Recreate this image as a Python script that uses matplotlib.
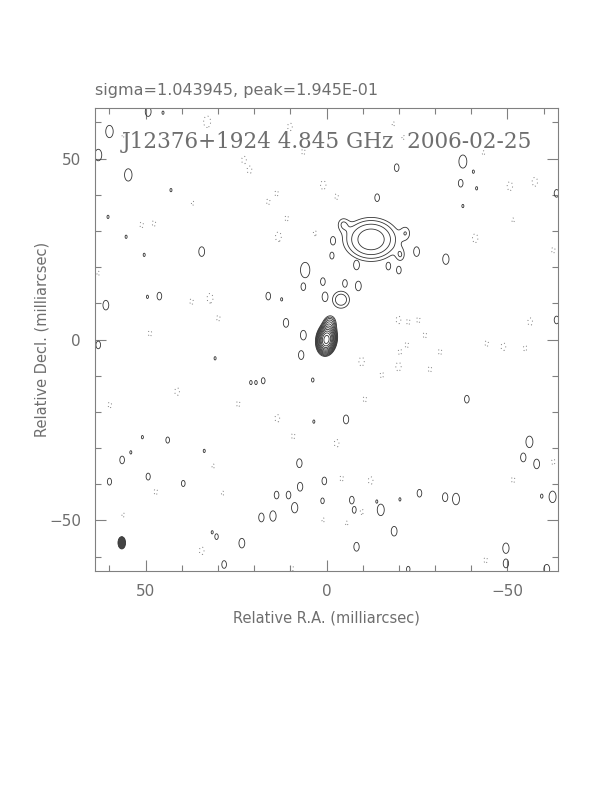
import numpy as np
import matplotlib
matplotlib.use("Agg")
import matplotlib.pyplot as plt
from matplotlib.patches import Ellipse
from matplotlib.ticker import MultipleLocator

# map header values
source = "J12376+1924"
freq = "4.845 GHz"
obs_date = "2006-02-25"
sigma = 1.043945
peak = 1.945E-01

# clean beam (mas, deg) and where it is drawn
beam_maj, beam_min, beam_pa = 3.4, 2.1, 0.0
beam_ra, beam_dec = 56.6, -56.2

# contour levels in units of sigma: -3, 3 * sqrt(2)^n
base_level = 3.0
n_levels = 12

# core and jet components: ra, dec (mas), peak (sigma), fwhm maj/min (mas), pa (deg)
comp_ra = [0.0, -0.8, -12.3, -12.5, -4.5, -20.5, -22.0, -4.0]
comp_dec = [0.0, 4.0, 27.7, 27.5, 32.0, 23.2, 29.5, 11.0]
comp_amp = [170.0, 12.0, 9.5, 2.0, 3.0, 3.0, 2.8, 5.5]
comp_maj = [3.9, 3.5, 10.3, 17.0, 3.5, 3.6, 3.8, 5.0]
comp_min = [2.5, 2.5, 8.3, 11.0, 3.0, 2.4, 2.6, 5.0]
comp_pa = [-8.0, -8.0, 90.0, 90.0, 0.0, 0.0, 0.0, 0.0]

# positive residual peaks, each a single 3-sigma contour: ra, dec (mas), relative size
pos_ra = [60.0, 63.1, 54.8, 34.5, 5.9, 6.4, 1.0, 0.4, 61.0, 46.2, 16.1, 12.4, 11.2, 6.4,
          49.3, 60.4, 55.4, 50.4, 49.5, 43.0, 45.2,
          -37.7, -19.4, -37.1, -14.0, -37.7, -41.5, -40.6, -63.6, -1.8, -1.5, -8.3,
          -17.1, -20.0, -24.9, -33.0, -8.8, -5.1, -63.6,
          -38.8, -5.4, -56.1, -54.4, -58.1, -62.5, -59.5, 0.6, 1.1, -7.0, -7.7, -15.0,
          -13.9, -20.3, -25.7, -32.8, -35.8, -18.7, -8.3, -49.6, -49.6, -60.9, -22.6,
          63.1, 7.0, 20.9, 19.5, 17.5, 3.8, 30.8, 3.5, 7.5, 7.3, 13.8, 10.5, 8.8, 14.8,
          18.0, 23.4, 28.3, 30.4, 31.6, 56.5, 60.0, 49.3, 39.6, 43.9, 54.1, 50.9, 33.8]
pos_dec = [57.5, 51.0, 45.5, 24.3, 19.2, 14.6, 16.0, 11.8, 9.5, 12.0, 12.0, 11.1, 4.6, 1.2,
           63.0, 33.9, 28.4, 23.4, 11.8, 41.3, 62.7,
           49.2, 47.5, 43.2, 39.2, 36.9, 41.8, 46.4, 40.4, 27.3, 23.2, 20.6,
           20.3, 19.2, 24.3, 22.2, 14.8, 15.5, 5.4,
           -16.5, -22.1, -28.3, -32.6, -34.4, -43.5, -43.3, -39.1, -44.6, -44.4, -47.1, -47.1,
           -44.8, -44.2, -42.5, -43.6, -44.1, -53.0, -57.3, -57.7, -61.9, -63.5, -63.5,
           -1.5, -4.3, -11.9, -11.9, -11.4, -11.2, -5.2, -22.7, -34.2, -40.7, -43.0, -43.0,
           -46.5, -48.8, -49.2, -56.3, -62.2, -54.5, -53.3, -33.3, -39.3, -37.9, -39.8,
           -27.8, -31.2, -27.0, -30.8]
pos_size = [1.6, 1.5, 1.6, 1.25, 2.0, 1.0, 1.0, 1.25, 1.25, 1.0, 1.0, 0.45, 1.15, 1.25,
            1.25, 0.45, 0.45, 0.45, 0.45, 0.45, 0.45,
            1.7, 1.0, 1.0, 1.0, 0.45, 0.45, 0.45, 1.0, 1.1, 0.9, 1.25,
            1.0, 1.0, 1.25, 1.35, 1.25, 1.0, 1.0,
            1.0, 1.15, 1.5, 1.15, 1.25, 1.5, 0.55, 1.0, 0.75, 1.0, 0.9, 1.5,
            0.45, 0.45, 1.0, 1.15, 1.5, 1.25, 1.15, 1.35, 1.15, 1.25, 0.75,
            1.0, 1.15, 0.55, 0.55, 0.8, 0.55, 0.45, 0.45, 1.15, 1.15, 1.0, 1.0, 1.35, 1.35,
            1.15, 1.25, 1.0, 0.75, 0.45, 1.0, 0.9, 0.9, 0.8, 0.8, 0.45, 0.45, 0.45]

# negative residual peaks (dotted contours): ra, dec (mas), relative size
neg_ra = [33.0, 10.1, 6.4, 22.8, 21.3, 0.9, 13.8, 16.1, 11.0, 13.3, 3.2, 51.1, 47.7, 37.0,
          32.2, 29.9, 37.3, 48.8, 63.1, 56.2, -2.8, -18.5, -50.7, -57.6, -41.1, -51.6,
          -43.4, -19.9, -22.6, -25.4, -27.2, -56.3, -62.7, -22.2, -20.3, -31.4, -44.3,
          -48.9, -54.9, -9.7, -19.9, -15.3, -28.6, -10.6, -2.8, -4.2, -12.2, -9.7, -5.6,
          0.9, -51.6, -62.7, -44.0, 41.3, 59.9, 24.4, 13.6, 9.2, 31.3, 47.2, 28.7, 56.2,
          34.5, 9.6, -21.2]
neg_dec = [60.2, 58.8, 51.9, 49.6, 46.9, 42.7, 40.4, 38.1, 33.5, 28.4, 29.4, 31.7, 32.1, 37.7,
           11.4, 5.9, 10.5, 1.7, 18.3, 56.5, 39.5, 59.6, 42.4, 43.6, 28.0, 33.0,
           51.6, 5.4, 4.9, 5.4, 1.2, 4.9, 24.7, -1.5, -3.4, -3.4, -1.1,
           -2.0, -2.4, -6.1, -7.5, -9.8, -8.2, -16.5, -28.7, -38.4, -39.0, -47.6, -50.8,
           -49.9, -38.8, -33.8, -61.0, -14.4, -18.1, -17.8, -21.8, -26.7, -35.0, -42.1, -42.5,
           -48.5, -58.4, -63.3, 55.9]
neg_size = [1.5, 1.0, 0.75, 1.0, 1.0, 1.15, 0.75, 0.75, 0.75, 1.25, 0.75, 0.75, 0.75, 0.55,
            1.25, 0.75, 0.75, 0.75, 0.55, 0.55, 0.75, 0.55, 1.15, 1.15, 1.15, 0.55,
            0.55, 1.0, 0.75, 0.75, 0.75, 1.0, 0.75, 0.75, 0.75, 0.75, 0.75,
            1.0, 0.75, 1.15, 1.15, 0.75, 0.75, 0.75, 1.0, 0.75, 1.0, 0.75, 0.55,
            0.55, 0.75, 0.75, 0.75, 1.0, 0.75, 0.75, 1.0, 0.75, 0.55, 0.75, 0.55, 0.55,
            1.0, 0.75, 0.55]

# residual peaks are beam shaped, peak just above the lowest level
noise_peak = 4.0
noise_maj, noise_min = 3.3, 2.0


def gauss2d(ra, dec, x0, y0, amp, maj, mn, pa):
    t = np.deg2rad(pa)
    dx = ra - x0
    dy = dec - y0
    u = dx * np.sin(t) + dy * np.cos(t)
    v = dx * np.cos(t) - dy * np.sin(t)
    return amp * np.exp(-4 * np.log(2) * ((u / maj) ** 2 + (v / mn) ** 2))


grid = np.linspace(-64, 64, 641)
RA, DEC = np.meshgrid(grid, grid)
img = np.zeros_like(RA)
for i in range(len(comp_ra)):
    img += gauss2d(RA, DEC, comp_ra[i], comp_dec[i], comp_amp[i], comp_maj[i], comp_min[i], comp_pa[i])

# residuals: keep the peaks separate so each stays one closed contour
res_pos = np.zeros_like(RA)
for x0, y0, s in zip(pos_ra, pos_dec, pos_size):
    res_pos = np.maximum(res_pos, gauss2d(RA, DEC, x0, y0, noise_peak, noise_maj * s, noise_min * s, 0.0))
res_neg = np.zeros_like(RA)
for x0, y0, s in zip(neg_ra, neg_dec, neg_size):
    res_neg = np.minimum(res_neg, gauss2d(RA, DEC, x0, y0, -noise_peak, noise_maj * s, noise_min * s, 0.0))
img = np.maximum(img, res_pos) + res_neg

pos_levels = [base_level * np.sqrt(2) ** n for n in range(n_levels)]
neg_levels = [-base_level]

gray = '#808080'
fig = plt.figure(figsize=(6.12, 7.92), dpi=100)
ax = fig.add_axes([95 / 612, 1 - 571 / 792, 463 / 612, 463 / 792])

ax.contour(RA, DEC, img, levels=pos_levels, colors='#333333', linewidths=0.6)
ax.contour(RA, DEC, img, levels=neg_levels, colors='#7a7a7a', linewidths=0.7,
           linestyles=[(0, (1, 3))])

ax.add_patch(Ellipse((beam_ra, beam_dec), beam_min, beam_maj, angle=-beam_pa,
                     facecolor='#444444', edgecolor='#333333', lw=0.6))

ax.set_xlim(64, -64)
ax.set_ylim(-64, 64)
ax.xaxis.set_major_locator(MultipleLocator(50))
ax.yaxis.set_major_locator(MultipleLocator(50))
ax.xaxis.set_minor_locator(MultipleLocator(10))
ax.yaxis.set_minor_locator(MultipleLocator(10))
ax.tick_params(which='both', direction='in', top=True, right=True, color=gray,
               width=0.8, labelcolor='#6e6e6e', labelsize=11)
ax.tick_params(which='major', length=8)
ax.tick_params(which='minor', length=4)
ax.tick_params(axis='x', pad=9)
ax.tick_params(axis='y', pad=10)
for s in ax.spines.values():
    s.set_color(gray)
    s.set_linewidth(0.8)

ax.set_xlabel('Relative R.A. (milliarcsec)', fontsize=10.5, color='#6e6e6e')
ax.set_ylabel('Relative Decl. (milliarcsec)', fontsize=10.5, color='#6e6e6e')
ax.xaxis.set_label_coords(0.5, -0.085)
ax.yaxis.set_label_coords(-0.098, 0.5)

ax.text(0.5, 0.914, f'{source} {freq}  {obs_date}', transform=ax.transAxes,
        ha='center', va='baseline', fontsize=15.5, family='DejaVu Serif', color='#6e6e6e')
fig.text(95 / 612, 1 - 95 / 792, f'sigma={sigma:.6f}, peak={peak:.3E}',
         fontsize=11.5, color='#6e6e6e', va='baseline')

fig.savefig('out.png', dpi=100)
